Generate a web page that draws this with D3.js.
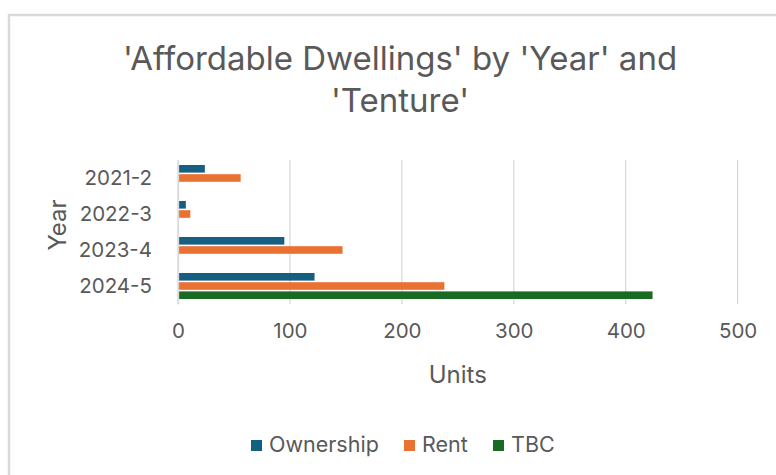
<!DOCTYPE html>
<html>
<head>
<meta charset="utf-8">
<script src="https://cdn.jsdelivr.net/npm/d3@7"></script>
<style>
  body { margin: 0; background: #fff; }
  svg text { font-family: Inter, "Open Sans", sans-serif; fill: #595959; }
</style>
</head>
<body>
<div id="chart"></div>
<script>
// Affordable dwellings by year and tenure
const years = ['2021-2', '2022-3', '2023-4', '2024-5'];
const series = ['Ownership', 'Rent', 'TBC'];
const ownership = [24, 7, 95, 122];
const rent = [56, 11, 147, 238];
const tbc = [0, 0, 0, 424];
const xTicks = [0, 100, 200, 300, 400, 500];
const colors = ['#156082', '#E97132', '#196B24'];

const width = 776, height = 475;
const plot = { left: 178, right: 737.6, top: 160, bottom: 304 };

const svg = d3.select('#chart')
    .append('svg')
    .attr('width', width)
    .attr('height', height);

// chart border
svg.append('rect')
    .attr('x', 9).attr('y', 15)
    .attr('width', 800).attr('height', 480)
    .attr('fill', '#fff')
    .attr('stroke', '#d9d9d9')
    .attr('stroke-width', 2.5);

// title
const title = svg.append('text')
    .attr('text-anchor', 'middle')
    .style('font-size', '33px');
title.append('tspan').attr('x', 400).attr('y', 70).text("'Affordable Dwellings' by 'Year' and");
title.append('tspan').attr('x', 400).attr('y', 112).text("'Tenture'");

const x = d3.scaleLinear()
    .domain([0, 500])
    .range([plot.left, plot.right]);

const y = d3.scaleBand()
    .domain(years)
    .range([plot.top, plot.bottom])
    .paddingInner(0.233)
    .paddingOuter(0.1165);

const ySub = d3.scaleBand()
    .domain(series)
    .range([0, y.bandwidth()]);

// gridlines
svg.append('g')
    .selectAll('line')
    .data(xTicks)
    .enter()
    .append('line')
    .attr('x1', d => x(d)).attr('x2', d => x(d))
    .attr('y1', plot.top).attr('y2', plot.bottom)
    .attr('stroke', '#d9d9d9')
    .attr('stroke-width', 1.3);

// bars
const values = [ownership, rent, tbc];
const bars = [];
series.forEach((s, i) => {
    years.forEach((yr, j) => {
        bars.push({ series: s, year: yr, value: values[i][j], color: colors[i] });
    });
});

svg.append('g')
    .selectAll('rect')
    .data(bars.filter(d => d.value > 0))
    .enter()
    .append('rect')
    .attr('x', x(0))
    .attr('y', d => y(d.year) + ySub(d.series) + 0.8)
    .attr('width', d => x(d.value) - x(0))
    .attr('height', ySub.bandwidth() - 1.6)
    .attr('fill', d => d.color);

// x axis labels
const xAxis = svg.append('g')
    .attr('transform', `translate(0,${plot.bottom})`)
    .call(d3.axisBottom(x).tickValues(xTicks).tickSize(0).tickPadding(19));
xAxis.select('.domain').remove();
xAxis.selectAll('text')
    .style('font-size', '20.5px')
    .style('font-family', 'Inter, sans-serif')
    .attr('fill', '#595959');

// y axis
const yAxis = svg.append('g')
    .attr('transform', `translate(${plot.left},0)`)
    .call(d3.axisLeft(y).tickSize(0).tickPadding(26));
yAxis.select('.domain').attr('stroke', '#d9d9d9').attr('stroke-width', 1.3);
yAxis.selectAll('text')
    .style('font-size', '20.5px')
    .style('font-family', 'Inter, sans-serif')
    .attr('fill', '#595959');

// axis titles
svg.append('text')
    .attr('x', (plot.left + plot.right) / 2)
    .attr('y', 383)
    .attr('text-anchor', 'middle')
    .style('font-size', '24px')
    .text('Units');

svg.append('text')
    .attr('transform', 'translate(66,225) rotate(-90)')
    .attr('text-anchor', 'middle')
    .style('font-size', '24px')
    .text('Year');

// legend
const legendItems = [
    { label: 'Ownership', x: 251 },
    { label: 'Rent', x: 404 },
    { label: 'TBC', x: 493 }
];
const legend = svg.append('g')
    .selectAll('g')
    .data(legendItems)
    .enter()
    .append('g')
    .attr('transform', d => `translate(${d.x},440)`);
legend.append('rect')
    .attr('width', 11).attr('height', 11)
    .attr('fill', (d, i) => colors[i]);
legend.append('text')
    .attr('x', 18)
    .attr('y', 12)
    .style('font-size', '21.5px')
    .text(d => d.label);
</script>
</body>
</html>
